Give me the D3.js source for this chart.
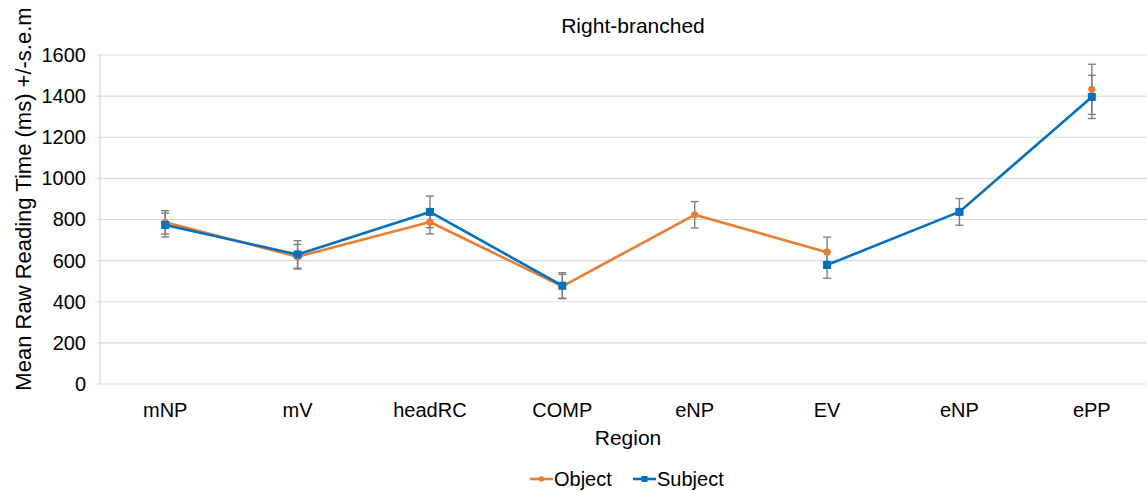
<!DOCTYPE html>
<html>
<head>
<meta charset="utf-8">
<script src="https://cdn.jsdelivr.net/npm/d3@7"></script>
<style>
  html, body { margin: 0; padding: 0; background: #fff; }
  svg { display: block; font-family: "Liberation Sans", Arial, sans-serif; }
</style>
</head>
<body>
<svg id="chart" width="1147" height="492"></svg>
<script>
// Regions along the sentence (eNP appears twice, so points are keyed by index)
const regions = ["mNP", "mV", "headRC", "COMP", "eNP", "EV", "eNP", "ePP"];
// Mean raw reading times (ms); null = no measurement for that region
const objectMeans  = [786, 619, 788, 475, 823, 641, null, 1433];
const objectSem    = [57, 60, 58, 58, 64, 73, null, 122];
const subjectMeans = [773, 630, 837, 478, null, 579, 837, 1396];
const subjectSem   = [58, 67, 77, 63, null, 65, 65, 105];
const yTicks = [0, 200, 400, 600, 800, 1000, 1200, 1400, 1600];

const series = [
  { name: "Object",  means: objectMeans,  sem: objectSem,  color: "#ED7D31", marker: "circle" },
  { name: "Subject", means: subjectMeans, sem: subjectSem, color: "#0070C0", marker: "square" }
];

const svg = d3.select("#chart");
const plot = { left: 99, right: 1158, top: 55, bottom: 384 };
const FONT = "Liberation Sans, Arial, sans-serif";

const x = d3.scaleBand().domain(d3.range(regions.length)).range([plot.left, plot.right]);
const cx = i => x(i) + x.bandwidth() / 2;
const y = d3.scaleLinear().domain([0, 1600]).range([plot.bottom, plot.top]);

// Horizontal gridlines
svg.append("g")
  .selectAll("line")
  .data(yTicks)
  .join("line")
  .attr("x1", plot.left - 2).attr("x2", plot.right)
  .attr("y1", d => y(d)).attr("y2", d => y(d))
  .attr("stroke", "#d9d9d9").attr("stroke-width", 1.2);

// Vertical axis line
svg.append("line")
  .attr("x1", plot.left + 1).attr("x2", plot.left + 1)
  .attr("y1", y(1600)).attr("y2", y(0))
  .attr("stroke", "#d9d9d9").attr("stroke-width", 1.2);

// Y axis labels
const yAxis = d3.axisLeft(y).tickValues(yTicks).tickFormat(d3.format("d")).tickSize(0).tickPadding(0);
const gy = svg.append("g").attr("transform", `translate(86,0)`).call(yAxis);
gy.select(".domain").remove();
gy.selectAll("text").attr("font-size", 20).attr("fill", "#000").attr("font-family", FONT);

// X axis labels
const xAxis = d3.axisBottom(x).tickFormat(i => regions[i]).tickSize(0).tickPadding(0);
const gx = svg.append("g").attr("transform", `translate(0,403)`).call(xAxis);
gx.select(".domain").remove();
gx.selectAll("text").attr("font-size", 20).attr("fill", "#000").attr("font-family", FONT);

// Titles
svg.append("text").attr("x", 633).attr("y", 33).attr("text-anchor", "middle")
  .attr("font-size", 21).text("Right-branched");
svg.append("text").attr("x", 628).attr("y", 445).attr("text-anchor", "middle")
  .attr("font-size", 21).text("Region");
svg.append("text")
  .attr("transform", "translate(31,199) rotate(-90)")
  .attr("text-anchor", "middle").attr("font-size", 22)
  .text("Mean Raw Reading Time (ms) +/-s.e.m");

// Lines (broken where a value is missing)
const line = d3.line()
  .defined(d => d.v !== null)
  .x(d => cx(d.i)).y(d => y(d.v));

series.forEach(s => {
  const pts = s.means.map((v, i) => ({ i, v, e: s.sem[i] }));
  svg.append("path")
    .datum(pts)
    .attr("d", line)
    .attr("fill", "none")
    .attr("stroke", s.color)
    .attr("stroke-width", 2.6)
    .attr("stroke-linejoin", "round");
});

// Error bars
series.forEach(s => {
  const pts = s.means.map((v, i) => ({ i, v, e: s.sem[i] })).filter(d => d.v !== null);
  const g = svg.append("g").attr("stroke", "#7f7f7f").attr("stroke-width", 1.4);
  g.selectAll(".stem").data(pts).join("line")
    .attr("x1", d => cx(d.i)).attr("x2", d => cx(d.i))
    .attr("y1", d => y(d.v - d.e)).attr("y2", d => y(d.v + d.e));
  g.selectAll(".capTop").data(pts).join("line")
    .attr("x1", d => cx(d.i) - 4).attr("x2", d => cx(d.i) + 4)
    .attr("y1", d => y(d.v + d.e)).attr("y2", d => y(d.v + d.e));
  g.selectAll(".capBot").data(pts).join("line")
    .attr("x1", d => cx(d.i) - 4).attr("x2", d => cx(d.i) + 4)
    .attr("y1", d => y(d.v - d.e)).attr("y2", d => y(d.v - d.e));
});

// Markers
function drawMarker(sel, s, px, py) {
  if (s.marker === "circle") {
    sel.append("circle").attr("cx", px).attr("cy", py).attr("r", 3.6).attr("fill", s.color);
  } else {
    sel.append("rect").attr("x", px - 4).attr("y", py - 4).attr("width", 8).attr("height", 8).attr("fill", s.color);
  }
}
series.forEach(s => {
  const g = svg.append("g");
  s.means.forEach((v, i) => { if (v !== null) drawMarker(g, s, cx(i), y(v)); });
});

// Legend
const legendItems = [
  { s: series[0], x: 530 },
  { s: series[1], x: 633 }
];
legendItems.forEach(({ s, x: lx }) => {
  const g = svg.append("g");
  g.append("line").attr("x1", lx).attr("x2", lx + 23).attr("y1", 479).attr("y2", 479)
    .attr("stroke", s.color).attr("stroke-width", 2.6);
  if (s.marker === "circle") {
    g.append("circle").attr("cx", lx + 11.5).attr("cy", 479).attr("r", 2.8).attr("fill", s.color);
  } else {
    g.append("rect").attr("x", lx + 8.5).attr("y", 476).attr("width", 6).attr("height", 6).attr("fill", s.color);
  }
  g.append("text").attr("x", lx + 24).attr("y", 486).attr("font-size", 20).text(s.name);
});
</script>
</body>
</html>
